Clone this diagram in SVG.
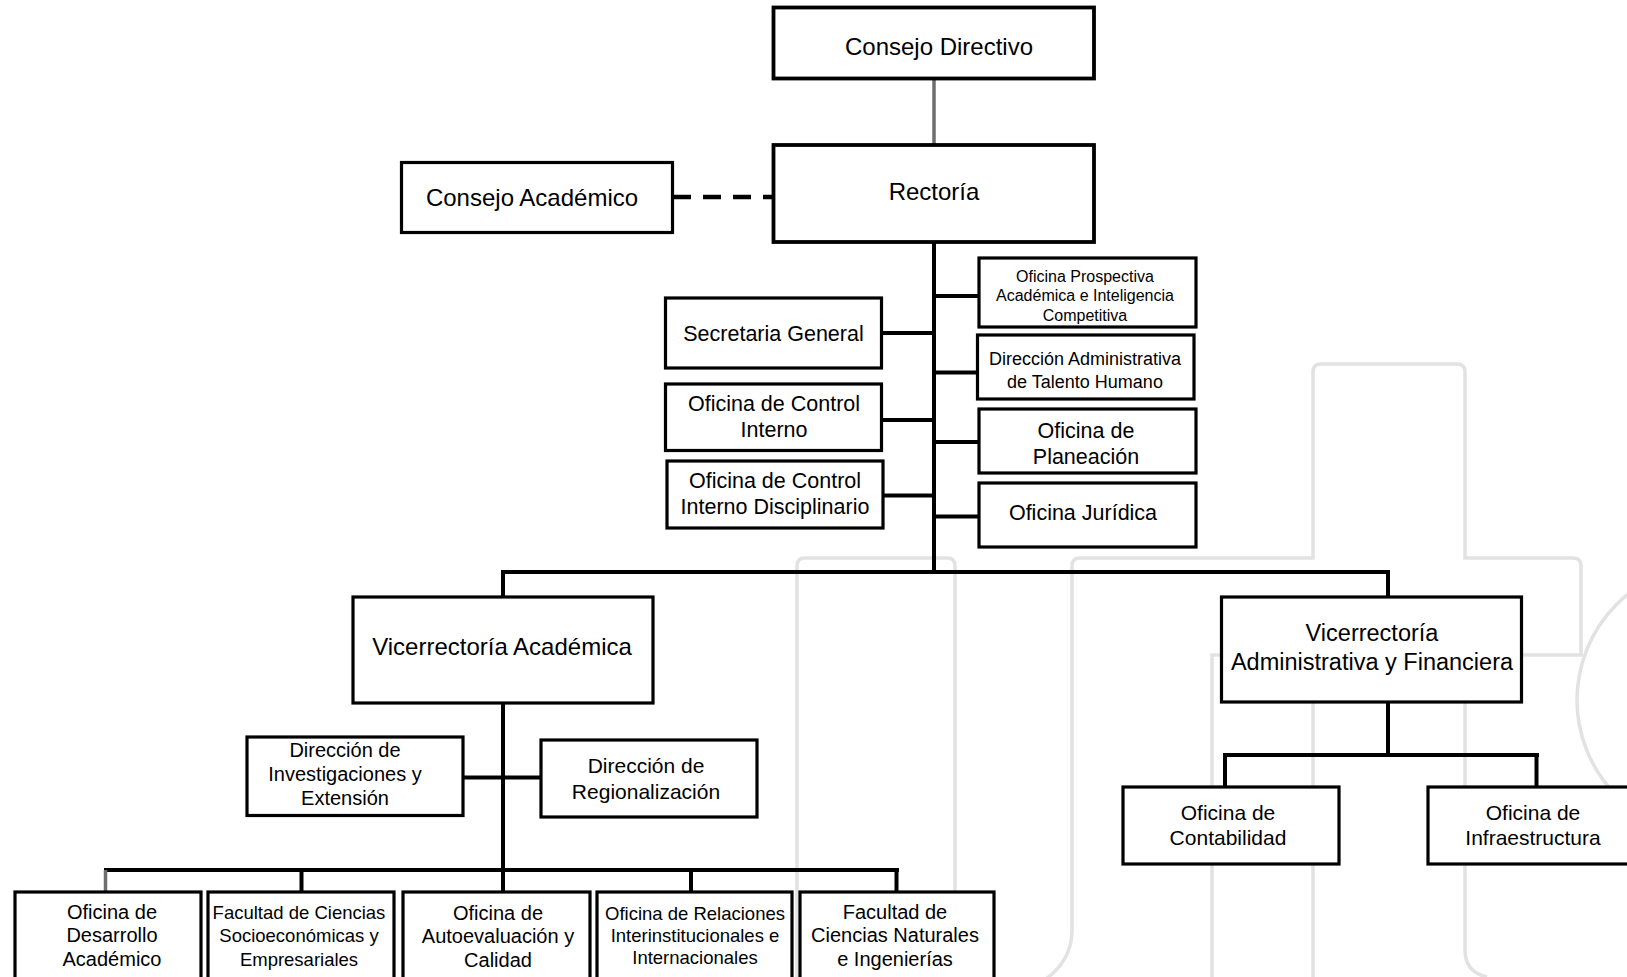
<svg xmlns="http://www.w3.org/2000/svg" width="1627" height="977" viewBox="0 0 1627 977">
<style>
  .wm { fill: none; stroke: #e2e2e2; stroke-width: 3.5; }
  .box { fill: #ffffff; stroke: #000000; stroke-width: 3.2; }
  .box-strong { fill: #ffffff; stroke: #000000; stroke-width: 3.8; }
  .lbl { font-family: "Liberation Sans", Arial, sans-serif; fill: #000000; text-anchor: middle; dominant-baseline: central; }
  .con { fill: none; stroke: #000000; stroke-width: 4; stroke-linecap: square; }
  .con-gray { fill: none; stroke: #6e6e6e; stroke-width: 3.5; }
  .con-dash { fill: none; stroke: #000000; stroke-width: 4.5; stroke-dasharray: 18 12; }
</style>
<rect x="0" y="0" width="1627" height="977" fill="#ffffff"/>
<g id="watermark">
  <path class="wm" d="M797 980 V566 Q797 558 805 558 H947 Q955 558 955 566 V930 A58.5 58.5 0 0 0 1072 930 V566 Q1072 558 1080 558 H1313 V372 Q1313 364 1321 364 H1457 Q1465 364 1465 372 V558 H1573 Q1581 558 1581 566 V655 H1465 V950 Q1465 972 1487 977"/>
  <path class="wm" d="M1212 980 V655 H1313 V980"/>
  <circle class="wm" cx="1712" cy="700" r="135"/>
</g>
<g id="connectors">
  <path class="con-gray" d="M934 78 V145"/>
  <path class="con-dash" d="M673 197 H773"/>
  <path class="con" d="M934 242 V572"/>
  <path class="con" d="M934 296 H979 M934 372.5 H977.5 M934 442 H979 M934 516.5 H979"/>
  <path class="con" d="M881.5 333 H934 M881.5 420 H934 M883 495.5 H934"/>
  <path class="con" d="M503 572 H1388 M503 572 V597 M1388 572 V597"/>
  <path class="con" d="M503 703 V892"/>
  <path class="con" d="M463 777.5 H541"/>
  <path class="con" d="M106 870 H897 M301.5 870 V892 M691 870 V892 M896.5 870 V892"/>
  <path class="con-gray" d="M105.5 870 V892"/>
  <path class="con" d="M1388 702 V755 M1225 755 H1537 M1225 755 V787 M1536.5 755 V787"/>
</g>
<g id="consejo-directivo">
  <rect class="box-strong" x="773.5" y="7.5" width="320.5" height="71"/>
  <text class="lbl" x="939" y="46.5" font-size="24">Consejo Directivo</text>
</g>
<g id="rectoria">
  <rect class="box-strong" x="773.5" y="145" width="320.5" height="97"/>
  <text class="lbl" x="934" y="191" font-size="24">Rectoría</text>
</g>
<g id="consejo-academico">
  <rect class="box" x="401.5" y="162.5" width="271" height="70"/>
  <text class="lbl" x="532" y="197" font-size="24">Consejo Académico</text>
</g>
<g id="oficina-prospectiva">
  <rect class="box" x="979" y="258" width="217" height="69"/>
  <text class="lbl" x="1085" font-size="16"><tspan x="1085" y="275.5">Oficina Prospectiva</tspan><tspan x="1085" y="295">Académica e Inteligencia</tspan><tspan x="1085" y="314.5">Competitiva</tspan></text>
</g>
<g id="secretaria-general">
  <rect class="box" x="665.5" y="298" width="216" height="70"/>
  <text class="lbl" x="773.5" y="334" font-size="21.5">Secretaria General</text>
</g>
<g id="talento-humano">
  <rect class="box" x="977.5" y="335" width="216.5" height="64"/>
  <text class="lbl" x="1085" font-size="18"><tspan x="1085" y="359">Dirección Administrativa</tspan><tspan x="1085" y="382">de Talento Humano</tspan></text>
</g>
<g id="control-interno">
  <rect class="box" x="665.5" y="384" width="216" height="66.5"/>
  <text class="lbl" x="774" font-size="21.5"><tspan x="774" y="404">Oficina de Control</tspan><tspan x="774" y="429.5">Interno</tspan></text>
</g>
<g id="planeacion">
  <rect class="box" x="979" y="409" width="217" height="64"/>
  <text class="lbl" x="1086" font-size="21.5"><tspan x="1086" y="431">Oficina de</tspan><tspan x="1086" y="456.5">Planeación</tspan></text>
</g>
<g id="control-disciplinario">
  <rect class="box" x="667" y="461" width="216" height="67"/>
  <text class="lbl" x="775" font-size="21.5"><tspan x="775" y="481">Oficina de Control</tspan><tspan x="775" y="507">Interno Disciplinario</tspan></text>
</g>
<g id="juridica">
  <rect class="box" x="979" y="483" width="217" height="64"/>
  <text class="lbl" x="1083" y="513" font-size="21.5">Oficina Jurídica</text>
</g>
<g id="vicerrectoria-academica">
  <rect class="box" x="353" y="597" width="300" height="106"/>
  <text class="lbl" x="502" y="646.5" font-size="24">Vicerrectoría Académica</text>
</g>
<g id="vicerrectoria-administrativa">
  <rect class="box" x="1221.5" y="597" width="300" height="105"/>
  <text class="lbl" x="1372" font-size="23.5"><tspan x="1372" y="633">Vicerrectoría</tspan><tspan x="1372" y="662">Administrativa y Financiera</tspan></text>
</g>
<g id="investigaciones">
  <rect class="box" x="247" y="737" width="216" height="78.5"/>
  <text class="lbl" x="345" font-size="20"><tspan x="345" y="750">Dirección de</tspan><tspan x="345" y="774">Investigaciones y</tspan><tspan x="345" y="798">Extensión</tspan></text>
</g>
<g id="regionalizacion">
  <rect class="box" x="541" y="740" width="216" height="77"/>
  <text class="lbl" x="646" font-size="21"><tspan x="646" y="765">Dirección de</tspan><tspan x="646" y="791">Regionalización</tspan></text>
</g>
<g id="contabilidad">
  <rect class="box" x="1123" y="787" width="216" height="77"/>
  <text class="lbl" x="1228" font-size="21"><tspan x="1228" y="811.5">Oficina de</tspan><tspan x="1228" y="836.5">Contabilidad</tspan></text>
</g>
<g id="infraestructura">
  <rect class="box" x="1428" y="787" width="215" height="77"/>
  <text class="lbl" x="1533" font-size="21"><tspan x="1533" y="811.5">Oficina de</tspan><tspan x="1533" y="836.5">Infraestructura</tspan></text>
</g>
<g id="desarrollo-academico">
  <rect class="box" x="15" y="892" width="186" height="100"/>
  <text class="lbl" x="112" font-size="20"><tspan x="112" y="912">Oficina de</tspan><tspan x="112" y="935">Desarrollo</tspan><tspan x="112" y="958.5">Académico</tspan></text>
</g>
<g id="facultad-socioeconomicas">
  <rect class="box" x="208" y="892" width="186" height="100"/>
  <text class="lbl" x="299" font-size="18.5"><tspan x="299" y="912">Facultad de Ciencias</tspan><tspan x="299" y="935">Socioeconómicas y</tspan><tspan x="299" y="958.5">Empresariales</tspan></text>
</g>
<g id="autoevaluacion">
  <rect class="box" x="403" y="892" width="187" height="100"/>
  <text class="lbl" x="498" font-size="20"><tspan x="498" y="913">Oficina de</tspan><tspan x="498" y="936">Autoevaluación y</tspan><tspan x="498" y="960">Calidad</tspan></text>
</g>
<g id="relaciones">
  <rect class="box" x="597" y="892" width="195" height="100"/>
  <text class="lbl" x="695" font-size="18.5"><tspan x="695" y="913">Oficina de Relaciones</tspan><tspan x="695" y="935">Interinstitucionales e</tspan><tspan x="695" y="957">Internacionales</tspan></text>
</g>
<g id="facultad-naturales">
  <rect class="box" x="800" y="892" width="194" height="100"/>
  <text class="lbl" x="895" font-size="20"><tspan x="895" y="911.5">Facultad de</tspan><tspan x="895" y="935">Ciencias Naturales</tspan><tspan x="895" y="958.5">e Ingenierías</tspan></text>
</g>
</svg>
